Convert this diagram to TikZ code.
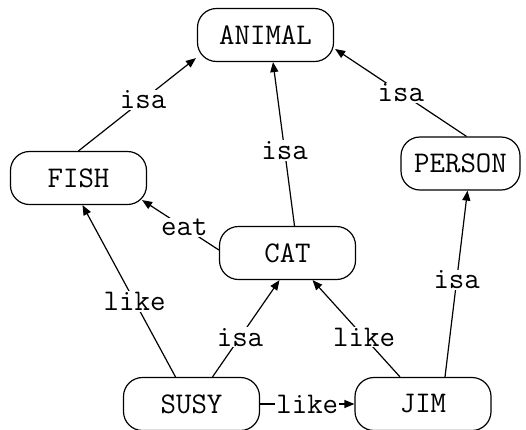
\documentclass[tikz,border=0pt]{standalone}
\usetikzlibrary{arrows.meta}
\begin{document}
\begin{tikzpicture}[x=1pt,y=-1pt,
  every node/.style={font=\fontsize{30}{32}\fontseries{l}\selectfont\ttfamily},
  entity/.style={draw,line width=1.2pt,rounded corners=19pt,minimum width=136pt,minimum height=53pt,inner sep=0pt},
  rel/.style={line width=1.2pt,-{Triangle[length=10pt,width=8pt]}},
  lbl/.style={fill=white,inner sep=1pt}]
\useasboundingbox (0,0) rectangle (526,429);
\node[entity] (animal) at (265.5,35) {ANIMAL};
\node[entity] (fish) at (78.5,178) {FISH};
\node[entity,minimum width=119pt] (person) at (460.5,163.5) {PERSON};
\node[entity] (cat) at (287.5,253) {CAT};
\node[entity] (susy) at (191.5,404) {SUSY};
\node[entity] (jim) at (423,404) {JIM};

\draw[rel] (fish.north) -- node[lbl,pos=0.55] {isa} ([xshift=-1pt,yshift=4pt]animal.south west);
\draw[rel] ([xshift=6pt]person.north) -- node[lbl,pos=0.5] {isa} ([xshift=1pt,yshift=-14pt]animal.east);
\draw[rel] ([xshift=7pt]cat.north) -- node[lbl,pos=0.46] {isa} ([xshift=7.5pt]animal.south);
\draw[rel] ([yshift=3pt]cat.west) -- node[lbl,pos=0.45] {eat} ([xshift=-5pt,yshift=5pt]fish.south east);
\draw[rel] ([xshift=-16pt]susy.north) -- node[lbl,pos=0.44] {like} ([xshift=4pt]fish.south);
\draw[rel] ([xshift=21pt]susy.north) -- node[lbl,pos=0.41] {isa} ([xshift=-8pt]cat.south);
\draw[rel] ([xshift=-23pt]jim.north) -- node[lbl,pos=0.41] {like} ([xshift=25pt]cat.south);
\draw[rel] ([xshift=22pt]jim.north) -- node[lbl,pos=0.52] {isa} ([xshift=7pt]person.south);
\draw[rel] (susy.east) -- node[lbl,pos=0.5] {like} (jim.west);
\end{tikzpicture}
\end{document}
